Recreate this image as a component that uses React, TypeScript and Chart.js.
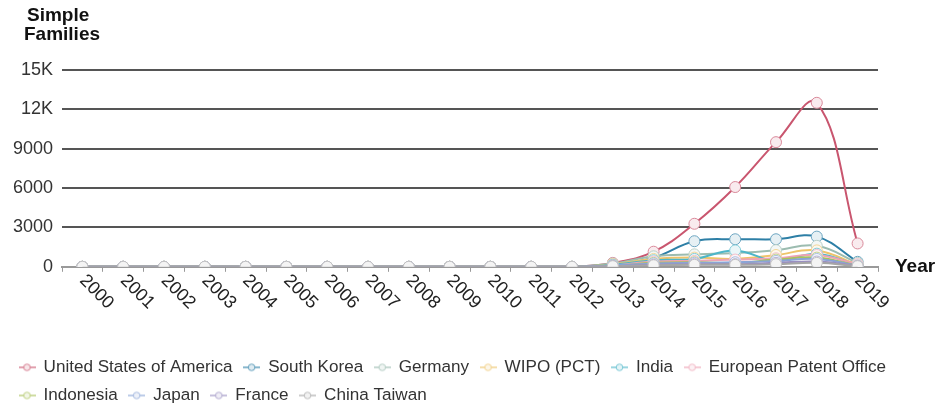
import React, { useEffect, useRef } from 'react';
import { Chart, registerables } from 'chart.js';

Chart.register(...registerables);

const years = ['2000', '2001', '2002', '2003', '2004', '2005', '2006', '2007', '2008', '2009', '2010', '2011', '2012', '2013', '2014', '2015', '2016', '2017', '2018', '2019'];

const usa = [0, 0, 0, 0, 0, 0, 0, 0, 0, 0, 0, 0, 0, 300, 1150, 3280, 6080, 9500, 12500, 1780];
const southKorea = [0, 0, 0, 0, 0, 0, 0, 0, 0, 0, 0, 0, 0, 200, 700, 1950, 2100, 2100, 2300, 380];
const germany = [0, 0, 0, 0, 0, 0, 0, 0, 0, 0, 0, 0, 0, 250, 800, 950, 1050, 1270, 1600, 300];
const wipo = [0, 0, 0, 0, 0, 0, 0, 0, 0, 0, 0, 0, 0, 200, 600, 700, 600, 900, 1250, 150];
const india = [0, 0, 0, 0, 0, 0, 0, 0, 0, 0, 0, 0, 0, 150, 500, 600, 1250, 450, 1000, 100];
const epo = [0, 0, 0, 0, 0, 0, 0, 0, 0, 0, 0, 0, 0, 100, 400, 450, 550, 650, 900, 200];
const indonesia = [0, 0, 0, 0, 0, 0, 0, 0, 0, 0, 0, 0, 0, 50, 300, 350, 300, 550, 700, 80];
const japan = [0, 0, 0, 0, 0, 0, 0, 0, 0, 0, 0, 0, 0, 100, 250, 300, 350, 450, 600, 100];
const france = [0, 0, 0, 0, 0, 0, 0, 0, 0, 0, 0, 0, 0, 50, 150, 200, 200, 300, 400, 60];
const chinaTaiwan = [0, 0, 0, 0, 0, 0, 0, 0, 0, 0, 0, 0, 0, 50, 120, 150, 150, 200, 300, 50];

const seriesNames = ['United States of America', 'South Korea', 'Germany', 'WIPO (PCT)', 'India', 'European Patent Office', 'Indonesia', 'Japan', 'France', 'China Taiwan'];
const seriesValues = [usa, southKorea, germany, wipo, india, epo, indonesia, japan, france, chinaTaiwan];
const seriesColors = ['#c9566f', '#2d7fa6', '#9cbcb0', '#eec46a', '#4db6c8', '#eea3b4', '#a9c25a', '#8aa4d6', '#9a8fc0', '#a6a6a6'];

const yTitleLines = ['Simple', 'Families'];
const xTitle = 'Year';
const yMax = 15000;
const yStep = 3000;

const FONT = '"Liberation Sans", Arial, Helvetica, sans-serif';

function mix(hex: string, t: number): string {
  const r = parseInt(hex.slice(1, 3), 16);
  const g = parseInt(hex.slice(3, 5), 16);
  const b = parseInt(hex.slice(5, 7), 16);
  const m = (c: number) => Math.round(c + (255 - c) * t);
  return `rgb(${m(r)},${m(g)},${m(b)})`;
}

function makeLegendIcon(color: string): HTMLCanvasElement {
  const c = document.createElement('canvas');
  c.width = 17;
  c.height = 10;
  const ctx = c.getContext('2d')!;
  ctx.strokeStyle = mix(color, 0.25);
  ctx.lineWidth = 1.5;
  ctx.beginPath();
  ctx.moveTo(0, 5);
  ctx.lineTo(17, 5);
  ctx.stroke();
  ctx.beginPath();
  ctx.arc(8.5, 5, 3.3, 0, Math.PI * 2);
  ctx.fillStyle = mix(color, 0.85);
  ctx.fill();
  ctx.lineWidth = 1;
  ctx.strokeStyle = mix(color, 0.25);
  ctx.stroke();
  return c;
}

const textPlugin = {
  id: 'customText',
  afterDraw(chart: any) {
    const ctx = chart.ctx as CanvasRenderingContext2D;
    const xs = chart.scales.x;
    const area = chart.chartArea;
    ctx.save();
    ctx.fillStyle = '#222';
    ctx.font = `18px ${FONT}`;
    ctx.textAlign = 'left';
    ctx.textBaseline = 'middle';
    years.forEach((label, i) => {
      const px = xs.getPixelForValue(i);
      ctx.save();
      ctx.translate(px, area.bottom + 11);
      ctx.rotate(Math.PI / 4);
      ctx.fillText(label, 0, 0);
      ctx.restore();
    });
    ctx.font = `bold 19px ${FONT}`;
    ctx.textBaseline = 'alphabetic';
    ctx.fillStyle = '#111';
    ctx.fillText(yTitleLines[0], 27, 21);
    ctx.fillText(yTitleLines[1], 24, 40);
    ctx.fillText(xTitle, area.right + 17, area.bottom + 5);
    ctx.restore();
  },
};

export default function App() {
  const canvasRef = useRef<HTMLCanvasElement | null>(null);

  useEffect(() => {
    document.body.style.margin = '0';
    const canvas = canvasRef.current;
    if (!canvas) return;
    const icons = seriesColors.map(makeLegendIcon);
    const datasets = seriesNames.map((name, i) => ({
      label: name,
      data: seriesValues[i],
      borderColor: seriesColors[i],
      backgroundColor: seriesColors[i],
      borderWidth: 2,
      tension: 0.4,
      pointRadius: 5.5,
      pointBorderWidth: 1,
      pointBackgroundColor: mix(seriesColors[i], 0.88),
      pointBorderColor: mix(seriesColors[i], 0.3),
      order: -i,
      fill: false,
    }));

    const chart = new Chart(canvas, {
      type: 'line',
      data: { labels: years, datasets },
      plugins: [textPlugin],
      options: {
        animation: false,
        responsive: false,
        events: [],
        layout: { padding: { left: 8, right: 0, top: 70, bottom: 0 } },
        plugins: {
          tooltip: { enabled: false },
          legend: {
            position: 'bottom',
            align: 'start',
            labels: {
              usePointStyle: true,
              pointStyleWidth: 16,
              padding: 11,
              color: '#333',
              font: { size: 17.1, family: FONT },
              generateLabels: (ch: any) =>
                ch.data.datasets.map((ds: any, i: number) => ({
                  text: ds.label,
                  fillStyle: seriesColors[i],
                  strokeStyle: seriesColors[i],
                  lineWidth: 0,
                  pointStyle: icons[i],
                  datasetIndex: i,
                  hidden: false,
                  fontColor: '#333',
                })),
            },
          },
        },
        scales: {
          x: {
            type: 'category',
            offset: true,
            afterFit: (s: any) => { s.height = 81; },
            grid: {
              offset: true,
              drawOnChartArea: false,
              drawTicks: true,
              tickLength: 5,
              color: '#999',
              lineWidth: 1,
            },
            border: { display: true, color: '#9a9a9a', width: 2 },
            ticks: { display: false },
          },
          y: {
            min: 0,
            max: yMax,
            afterFit: (s: any) => { s.width = 54; },
            ticks: {
              stepSize: yStep,
              padding: 9,
              color: '#333',
              font: { size: 18, family: FONT },
              callback: (v: any) => (Number(v) >= 10000 ? `${Number(v) / 1000}K` : `${v}`),
            },
            grid: { color: '#555', lineWidth: 2, drawTicks: false },
            border: { display: false },
          },
          yRight: {
            position: 'right',
            display: true,
            afterFit: (s: any) => { s.width = 62; },
            ticks: { display: false },
            grid: { display: false, drawTicks: false },
            border: { display: false },
          },
        },
      },
    });
    return () => chart.destroy();
  }, []);

  return (
    <div style={{ width: 940, height: 407, overflow: 'hidden', position: 'relative', background: '#fff' }}>
      <canvas ref={canvasRef} width={940} height={414} />
    </div>
  );
}
